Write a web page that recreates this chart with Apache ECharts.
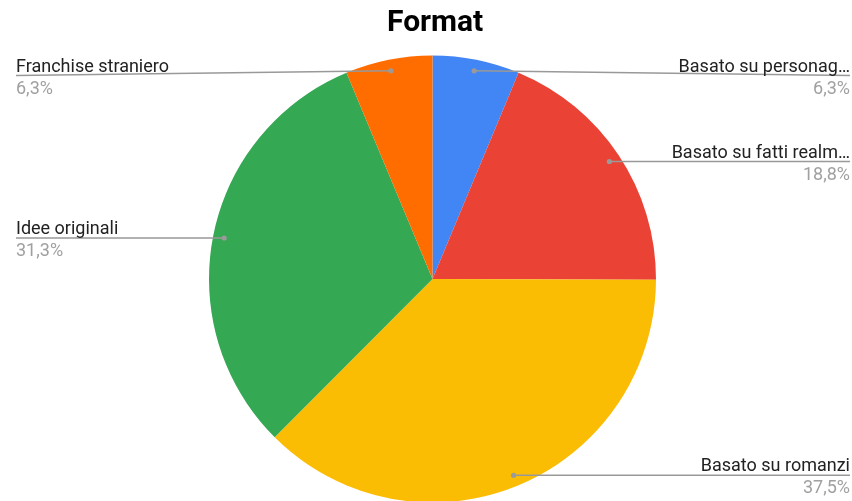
<!DOCTYPE html>
<html>
<head>
<meta charset="utf-8">
<script src="https://cdn.jsdelivr.net/npm/echarts@6/dist/echarts.min.js"></script>
<style>
  html, body { margin: 0; padding: 0; background: #fff; }
  #chart { width: 852px; height: 501px; }
</style>
</head>
<body>
<div id="chart"></div>
<script>
// Slice names (as shown), their percentages and colours
const categories = [
  'Basato su personag…',
  'Basato su fatti realm…',
  'Basato su romanzi',
  'Idee originali',
  'Franchise straniero'
];
const values = [6.3, 18.8, 37.5, 31.3, 6.3];
const colors = ['#4285F4', '#EA4335', '#FBBC04', '#34A853', '#FF6D01'];

const CENTER = [432.5, 279];
const RADIUS = 223.5;
const total = values.reduce((a, b) => a + b, 0);

// mid-angle of every slice, in value units along the angle axis
const mids = [];
let acc = 0;
values.forEach(v => { mids.push(acc + v / 2); acc += v; });

const fmtPct = v => v.toFixed(1).replace('.', ',') + '%';

const chart = echarts.init(document.getElementById('chart'), null, { renderer: 'canvas' });

chart.setOption({
  animation: false,
  backgroundColor: '#ffffff',
  title: {
    text: 'Format',
    left: 382,
    top: 3,
    textStyle: { fontFamily: 'Roboto', fontWeight: 'bold', fontSize: 30, color: '#000' }
  },
  polar: { center: CENTER, radius: RADIUS },
  angleAxis: { type: 'value', min: 0, max: total, startAngle: 90, clockwise: true, show: false },
  radiusAxis: { type: 'value', min: 0, max: 1, show: false },
  series: [
    {
      type: 'pie',
      center: CENTER,
      radius: RADIUS,
      startAngle: 90,
      clockwise: true,
      label: { show: false },
      labelLine: { show: false },
      emphasis: { disabled: true },
      itemStyle: { borderWidth: 0 },
      data: categories.map((name, i) => ({ name, value: values[i], itemStyle: { color: colors[i] } }))
    },
    {
      // leader dots, lines and labels for each slice
      type: 'custom',
      coordinateSystem: 'polar',
      z: 10,
      silent: true,
      encode: { radius: 0, angle: 1 },
      data: mids.map(m => [0.95, m]),
      renderItem(params, api) {
        const i = params.dataIndex;
        const p = api.coord([api.value(0), api.value(1)]);
        const c = api.coord([0, 0]);
        const W = api.getWidth();
        const right = p[0] >= c[0];
        const edgeX = right ? W - 2 : 16;
        const lineY = Math.max(p[1], 75.5);
        return {
          type: 'group',
          children: [
            {
              type: 'polyline',
              shape: { points: [[p[0], p[1]], [edgeX, lineY]] },
              style: { stroke: '#999999', lineWidth: 1.5, fill: null }
            },
            {
              type: 'circle',
              shape: { cx: p[0], cy: p[1], r: 2.6 },
              style: { fill: '#9a9a9a' }
            },
            {
              type: 'text',
              style: {
                text: categories[i],
                x: edgeX, y: lineY + 0.5,
                align: right ? 'right' : 'left',
                verticalAlign: 'bottom',
                fill: '#222222',
                font: '18px Roboto'
              }
            },
            {
              type: 'text',
              style: {
                text: fmtPct(values[i]),
                x: edgeX, y: lineY + 4.5,
                align: right ? 'right' : 'left',
                verticalAlign: 'top',
                fill: '#a0a0a0',
                font: '18px Roboto'
              }
            }
          ]
        };
      }
    }
  ]
});
</script>
</body>
</html>
